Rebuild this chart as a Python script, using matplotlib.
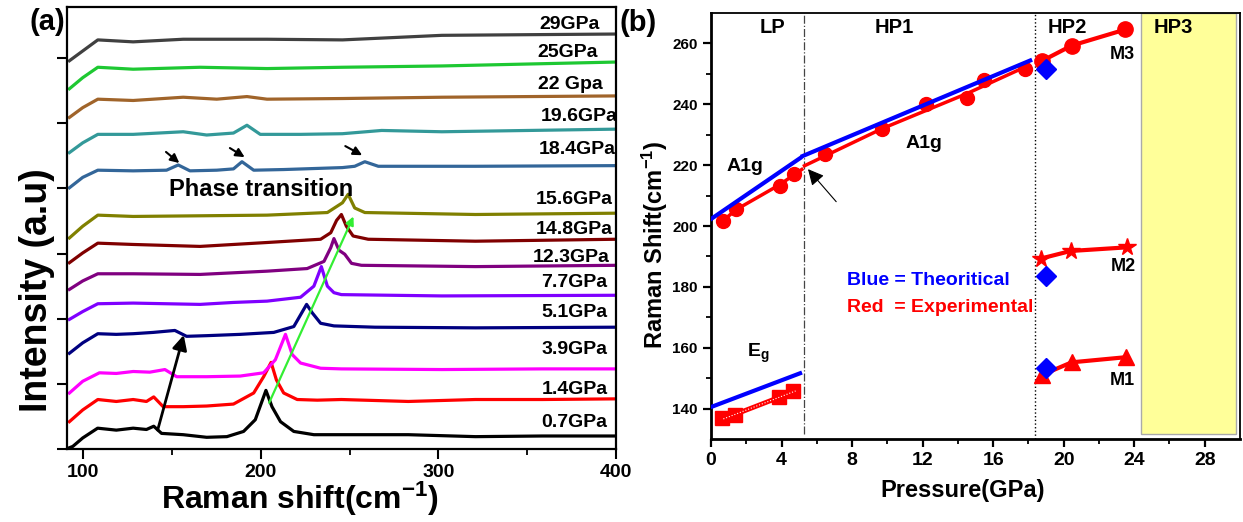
import numpy as np
import matplotlib.pyplot as plt

plt.rcParams['font.family'] = ['Liberation Sans', 'DejaVu Sans']
plt.rcParams['font.weight'] = 'bold'
plt.rcParams['mathtext.fontset'] = 'custom'
plt.rcParams['mathtext.rm'] = 'Liberation Sans:bold'
plt.rcParams['mathtext.bf'] = 'Liberation Sans:bold'
plt.rcParams['mathtext.default'] = 'bf'

# ---------------- panel (a): stacked Raman spectra ----------------
pressures = ['0.7GPa', '1.4GPa', '3.9GPa', '5.1GPa', '7.7GPa', '12.3GPa', '14.8GPa',
             '15.6GPa', '18.4GPa', '19.6GPa', '22 Gpa', '25GPa', '29GPa']
colors = ['black', '#ff0000', '#ff00ff', '#000080', '#7f00ff', '#800080', '#800000',
          '#808000', '#336699', '#339999', '#a0642a', '#1ec832', '#404040']

shift_07 = [92.1, 94, 99.6, 108, 118.5, 128, 135.5, 139.6, 144, 156.2, 169.4, 180.8, 190.2,
            196.8, 202.8, 206.2, 211, 218.5, 229.8, 245.3, 283, 320.8, 358.5, 400]
int_07 = [0.02, 0.04, 0.17, 0.32, 0.29, 0.32, 0.30, 0.35, 0.24, 0.22, 0.18, 0.19, 0.27,
          0.45, 0.90, 0.65, 0.42, 0.27, 0.22, 0.22, 0.22, 0.19, 0.20, 0.20]
shift_14 = [92.1, 99.6, 108.1, 118.5, 128, 135.5, 139.6, 144.9, 156.2, 169.4, 184.5, 195.9,
            201.5, 205.7, 208.7, 212.8, 220.4, 231.7, 245.3, 283, 320.8, 358.5, 400]
int_14 = [0.42, 0.60, 0.76, 0.73, 0.76, 0.73, 0.80, 0.65, 0.65, 0.66, 0.69, 0.86,
          1.11, 1.33, 1.06, 0.86, 0.76, 0.75, 0.76, 0.73, 0.76, 0.76, 0.77]
shift_39 = [92.1, 99.6, 109, 118.5, 128, 137.4, 145.9, 152.5, 169.4, 188.3, 201.5, 208.1,
            213.8, 217.6, 222.3, 233.6, 245.3, 301.9, 358.5, 400]
int_39 = [0.86, 1.04, 1.17, 1.16, 1.19, 1.18, 1.22, 1.11, 1.11, 1.12, 1.17, 1.37,
          1.76, 1.45, 1.32, 1.24, 1.23, 1.22, 1.23, 1.23]
shift_51 = [92.1, 99.6, 108.1, 118.5, 128, 139.3, 151.5, 158.1, 169.4, 188.3, 207.2, 218.5,
            225.7, 228.9, 233.6, 241.1, 264.2, 320.8, 400]
int_51 = [1.47, 1.63, 1.77, 1.76, 1.77, 1.79, 1.82, 1.73, 1.74, 1.76, 1.79, 1.88,
          2.22, 2.09, 1.93, 1.89, 1.87, 1.86, 1.87]
shift_77 = [92.1, 99.6, 108.1, 128, 146.8, 165.7, 184.5, 203.4, 222.3, 229.8, 234, 237.4,
            241.1, 245.3, 301.9, 400]
int_77 = [1.99, 2.11, 2.23, 2.24, 2.23, 2.22, 2.25, 2.27, 2.33, 2.50, 2.80, 2.50,
          2.40, 2.37, 2.35, 2.36]
shift_123 = [92.1, 99.6, 108.1, 128, 165.7, 203.4, 226, 235.5, 239.3, 241.1, 244, 247.2,
             251, 256.6, 320.8, 400]
int_123 = [2.45, 2.58, 2.69, 2.69, 2.68, 2.73, 2.77, 2.88, 3.09, 3.23, 3.05, 2.99,
           2.85, 2.82, 2.80, 2.82]
shift_148 = [92.1, 99.6, 108.1, 128, 165.7, 203.4, 233.6, 239.3, 242.6, 245.3, 248.1,
             251.9, 260.4, 320.8, 400]
int_148 = [2.86, 3.01, 3.16, 3.14, 3.11, 3.17, 3.22, 3.32, 3.51, 3.60, 3.42,
           3.27, 3.22, 3.19, 3.22]
shift_156 = [92.1, 99.6, 108.1, 128, 165.7, 203.4, 237.4, 245.9, 249.1, 252.8, 258.5,
             320.8, 400]
int_156 = [3.24, 3.42, 3.59, 3.57, 3.58, 3.59, 3.63, 3.78, 3.91, 3.70, 3.63,
           3.60, 3.62]
shift_184 = [92.1, 99.6, 108.1, 128, 146.8, 153.4, 160, 175.1, 184.5, 189.3, 195.9, 212.8,
             245.9, 252.8, 258.5, 266.1, 320.8, 400]
int_184 = [4.01, 4.17, 4.28, 4.27, 4.28, 4.36, 4.27, 4.28, 4.30, 4.41, 4.28, 4.29,
           4.32, 4.34, 4.41, 4.34, 4.34, 4.35]
shift_196 = [92.1, 99.6, 108.1, 128, 156.2, 169.4, 184.5, 192.1, 199.6, 222.3, 245.9,
             268, 301.9, 400]
int_196 = [4.55, 4.70, 4.83, 4.83, 4.87, 4.82, 4.85, 4.97, 4.83, 4.83, 4.84,
           4.89, 4.87, 4.91]
shift_22 = [92.1, 99.6, 108.1, 128, 156.2, 175.1, 192.1, 203.4, 245.9, 301.9, 400]
int_22 = [5.09, 5.24, 5.37, 5.35, 5.40, 5.37, 5.41, 5.37, 5.38, 5.40, 5.42]
shift_25 = [92.1, 99.6, 108.1, 128, 165.7, 203.4, 245.9, 301.9, 400]
int_25 = [5.53, 5.70, 5.86, 5.83, 5.86, 5.84, 5.86, 5.88, 5.94]
shift_29 = [92.1, 99.6, 108.1, 128, 156.2, 203.4, 245.9, 301.9, 400]
int_29 = [5.96, 6.11, 6.28, 6.25, 6.29, 6.29, 6.28, 6.35, 6.37]

spectra = [(shift_07, int_07), (shift_14, int_14), (shift_39, int_39), (shift_51, int_51),
           (shift_77, int_77), (shift_123, int_123), (shift_148, int_148),
           (shift_156, int_156), (shift_184, int_184), (shift_196, int_196),
           (shift_22, int_22), (shift_25, int_25), (shift_29, int_29)]

# label anchors (right edge, centre height)
label_x = [395.3, 395.3, 395.3, 395.3, 395.3, 396.4, 398.1, 398.1, 399.8, 400.9, 392.4, 389.6, 390.7]
label_y = [0.40, 0.91, 1.52, 2.09, 2.55, 2.94, 3.37, 3.83, 4.60, 5.11, 5.60, 6.08, 6.51]

# ---------------- panel (b): mode frequency vs pressure ----------------
a1g_p = [0.7, 1.4, 3.9, 4.7, 6.45, 9.7, 12.2, 14.5, 15.5, 17.8]
a1g_w = [201.5, 205.6, 213.0, 217.0, 223.6, 232.0, 240.0, 242.0, 248.0, 251.5]
a1g_lp_fit_p = [0.7, 1.4, 3.9, 5.15]
a1g_lp_fit_w = [201.8, 205.3, 213.6, 218.6]
a1g_hp_fit_p = [5.3, 9.7, 14.5, 17.9]
a1g_hp_fit_w = [219.8, 232.0, 243.5, 252.5]
a1g_th_lp_p = [0.0, 5.05]
a1g_th_lp_w = [202.3, 222.3]
a1g_th_hp_p = [5.2, 13.0, 18.1]
a1g_th_hp_w = [223.0, 242.0, 254.4]

eg_p = [0.6, 1.36, 3.85, 4.65]
eg_w = [136.9, 137.9, 143.8, 145.7]
eg_fit_p = [0.7, 4.8]
eg_fit_w = [136.6, 145.8]
eg_th_p = [0.0, 5.05]
eg_th_w = [140.5, 151.6]

m3_p = [18.75, 20.45, 23.5]
m3_w = [254.2, 259.3, 264.6]
m2_p = [18.7, 20.4, 23.6]
m2_w = [189.3, 191.8, 193.0]
m1_p = [18.75, 20.45, 23.55]
m1_w = [151.0, 155.2, 156.9]
th_hp2_p = [19.0, 19.0, 19.0]
th_hp2_w = [251.5, 183.7, 153.3]

fig = plt.figure(figsize=(12.43, 5.22), dpi=100)

# ---- (a)
ax1 = fig.add_axes([0.0537, 0.1398, 0.4419, 0.8468])
for (sx, iy), c in zip(spectra, colors):
    ax1.plot(sx, iy, color=c, lw=2.3, solid_joinstyle='round')
for name, lx, ly in zip(pressures, label_x, label_y):
    ax1.text(lx, ly, name, ha='right', va='center', fontsize=14, fontweight='bold')

ax1.text(200, 3.98, 'Phase transition', ha='center', va='center', fontsize=17, fontweight='bold')
for (x0, y0), (x1, y1) in [((146.5, 4.56), (154.0, 4.39)), ((182.5, 4.62), (190.8, 4.48)),
                           ((247.5, 4.65), (257.0, 4.51))]:
    ax1.annotate('', xy=(x1, y1), xytext=(x0, y0),
                 arrowprops=dict(arrowstyle='-|>', color='black', lw=1.5,
                                 mutation_scale=13, shrinkA=0, shrinkB=0))
ax1.annotate('', xy=(156.5, 1.75), xytext=(141.8, 0.29),
             arrowprops=dict(arrowstyle='-|>', color='black', lw=2, mutation_scale=22,
                             shrinkA=0, shrinkB=0))
ax1.annotate('', xy=(252.1, 3.57), xytext=(204.6, 0.71),
             arrowprops=dict(arrowstyle='-|>', color='#33ee33', lw=1.6, mutation_scale=12,
                             shrinkA=0, shrinkB=0))

ax1.set_xlim(90.6, 400)
ax1.set_ylim(0, 6.785)
ax1.set_xticks([100, 200, 300, 400])
ax1.set_xticks([150, 250, 350], minor=True)
ax1.set_yticks([0, 1, 2, 3, 4, 5, 6])
ax1.set_yticklabels([])
ax1.tick_params(axis='both', which='major', direction='out', length=7, width=1.5, labelsize=14)
ax1.tick_params(axis='x', which='minor', direction='out', length=4, width=1.3)
for s in ax1.spines.values():
    s.set_linewidth(1.6)
ax1.set_xlabel('Raman shift(cm$^{-1}$)', fontsize=23, fontweight='bold', va='center')
ax1.xaxis.set_label_coords(0.425, -0.112)
ax1.set_ylabel('Intensity (a.u)', fontsize=27, fontweight='bold', va='center')
ax1.yaxis.set_label_coords(-0.054, 0.36)

# ---- (b)
ax2 = fig.add_axes([0.572, 0.159, 0.4256, 0.816])
ax2.axvspan(24.4, 29.8, ymin=(131.5 - 130) / 140, ymax=1, facecolor='#ffff99',
            edgecolor='#aaaaaa', lw=1, zorder=0)
ax2.plot([5.25, 5.25], [131.5, 270], color='#444444', lw=0.9, ls='-.', zorder=1)
ax2.plot([18.35, 18.35], [130, 270], color='black', lw=1.0, ls=':', zorder=1)

red = '#ff0000'
blue = '#0000ff'
ax2.plot(a1g_lp_fit_p, a1g_lp_fit_w, color=red, lw=2.5, zorder=3)
ax2.plot(a1g_hp_fit_p, a1g_hp_fit_w, color=red, lw=2.5, zorder=3)
ax2.plot(a1g_p, a1g_w, 'o', color=red, ms=10, zorder=3)
ax2.plot(a1g_th_lp_p, a1g_th_lp_w, color=blue, lw=3, zorder=4)
ax2.plot(a1g_th_hp_p, a1g_th_hp_w, color=blue, lw=3, zorder=4)

ax2.plot(eg_fit_p, eg_fit_w, color=red, lw=3.5, zorder=3)
ax2.plot(eg_p, eg_w, 's', color=red, ms=10, zorder=3)
ax2.plot(eg_fit_p, eg_fit_w, color='white', lw=0.8, ls=':', zorder=3.5)
ax2.plot(eg_th_p, eg_th_w, color=blue, lw=3, zorder=4)

ax2.plot(m3_p, m3_w, '-o', color=red, lw=3, ms=11, zorder=3)
ax2.plot(m2_p, m2_w, '-*', color=red, lw=3, ms=13, zorder=3)
ax2.plot(m1_p, m1_w, '-^', color=red, lw=3, ms=11, zorder=3)
ax2.plot(th_hp2_p, th_hp2_w, 'D', color=blue, ms=10, lw=0, zorder=5)

ax2.annotate('', xy=(5.5, 218.7), xytext=(7.1, 208),
             arrowprops=dict(arrowstyle='-|>', color='black', lw=0.8, mutation_scale=24,
                             shrinkA=0, shrinkB=0))

for txt, x, y in [('LP', 3.5, 265.3), ('HP1', 10.4, 265.3), ('HP2', 20.2, 265.3), ('HP3', 26.2, 265.3)]:
    ax2.text(x, y, txt, ha='center', va='center', fontsize=14.5, fontweight='bold')
ax2.text(1.9, 219.5, 'A1g', ha='center', va='center', fontsize=14, fontweight='bold')
ax2.text(12.1, 227.2, 'A1g', ha='center', va='center', fontsize=14, fontweight='bold')
ax2.text(23.3, 256.3, 'M3', ha='center', va='center', fontsize=13, fontweight='bold')
ax2.text(23.4, 186.8, 'M2', ha='center', va='center', fontsize=13, fontweight='bold')
ax2.text(23.3, 149.2, 'M1', ha='center', va='center', fontsize=13, fontweight='bold')
ax2.text(2.7, 158.2, 'E$_{g}$', ha='center', va='center', fontsize=14, fontweight='bold')
ax2.text(7.7, 182.0, 'Blue = Theoritical', color=blue, ha='left', va='center',
         fontsize=14, fontweight='bold')
ax2.text(7.7, 173.3, 'Red  = Experimental', color=red, ha='left', va='center',
         fontsize=14, fontweight='bold')

ax2.set_xlim(0, 30)
ax2.set_ylim(130, 270)
ax2.set_xticks([0, 4, 8, 12, 16, 20, 24, 28])
ax2.set_xticks(np.arange(2, 30, 4), minor=True)
ax2.set_yticks([140, 160, 180, 200, 220, 240, 260])
ax2.set_yticks(np.arange(150, 270, 20), minor=True)
ax2.tick_params(axis='both', which='major', direction='out', length=6, width=1.6)
ax2.tick_params(axis='both', which='minor', direction='out', length=3.5, width=1.3)
ax2.tick_params(axis='x', labelsize=14)
ax2.tick_params(axis='y', labelsize=11)
for side in ['left', 'bottom']:
    ax2.spines[side].set_linewidth(2)
for side in ['top', 'right']:
    ax2.spines[side].set_linewidth(1.3)
ax2.set_xlabel('Pressure(GPa)', fontsize=17, fontweight='bold', va='center')
ax2.xaxis.set_label_coords(0.475, -0.12)
ax2.set_ylabel('Raman Shift(cm$^{-1}$)', fontsize=17, fontweight='bold', va='center')
ax2.yaxis.set_label_coords(-0.106, 0.455)

fig.text(0.038, 0.958, '(a)', ha='center', va='center', fontsize=21, fontweight='bold')
fig.text(0.513, 0.956, '(b)', ha='center', va='center', fontsize=21, fontweight='bold')

fig.savefig('out.png', dpi=100)
